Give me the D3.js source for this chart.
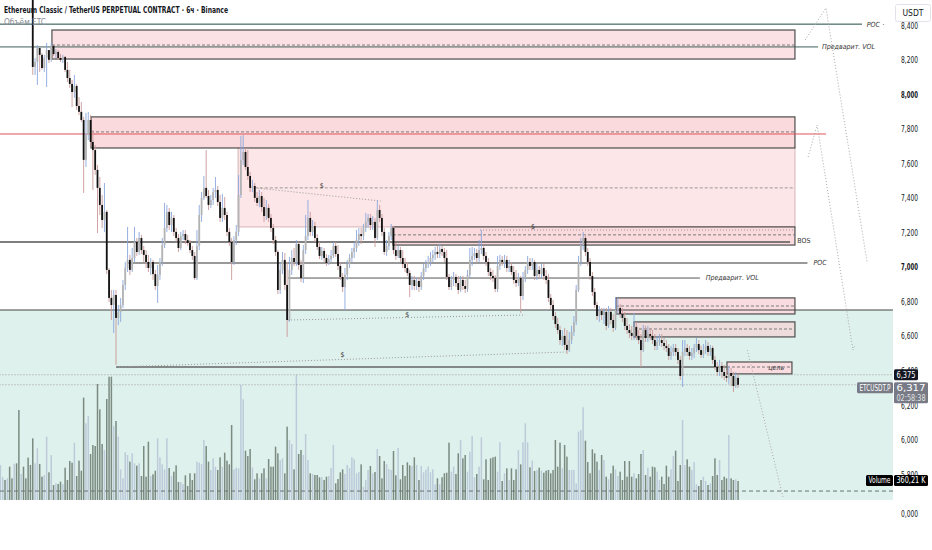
<!DOCTYPE html>
<html>
<head>
<meta charset="utf-8">
<title>ETCUSDT.P 6ч</title>
<script src="https://cdn.jsdelivr.net/npm/d3@7"></script>
<style>
body { margin: 0; background: #ffffff; }
svg text { font-family: "Liberation Sans Narrow", "DejaVu Sans Condensed", "Liberation Sans", sans-serif; }
</style>
</head>
<body>
<script>

// 6h candles, first one opens 24 May 12:00 UTC
var firstBar = Date.UTC(2025, 4, 24, 12);
var firstOpen = 8.68;

var closes = [
  8.70,8.75,8.72,8.80,8.78,8.74,8.82,8.79,8.71,8.76,
  8.73,8.68,8.66,8.62,8.157,8.186,8.267,8.227,8.151,8.209,
  8.255,8.198,8.279,8.232,8.244,8.209,8.198,8.215,8.140,8.093,
  8.059,8.012,8.047,7.931,7.897,7.850,7.619,7.763,7.850,7.723,
  7.676,7.561,7.457,7.358,7.271,7.318,6.982,6.820,6.779,6.837,
  6.704,6.739,6.779,6.895,6.993,7.040,6.982,7.051,7.144,7.086,
  7.167,7.097,7.069,7.028,6.993,7.028,6.958,6.889,6.953,7.028,
  7.126,7.225,7.318,7.242,7.283,7.202,7.167,7.109,7.178,7.190,
  7.155,7.138,7.097,7.063,6.935,7.121,7.300,7.399,7.457,7.410,
  7.358,7.387,7.433,7.445,7.375,7.283,7.341,7.300,7.202,7.144,
  7.028,7.155,7.202,7.416,7.619,7.665,7.578,7.526,7.457,7.468,
  7.399,7.370,7.410,7.346,7.294,7.341,7.283,7.225,7.155,7.086,
  6.866,6.982,7.040,6.895,6.692,6.982,7.051,7.028,7.132,7.011,
  6.935,7.097,7.178,7.283,7.202,7.236,7.167,7.115,7.063,7.092,
  7.051,7.022,7.045,7.063,7.121,7.074,7.005,6.941,6.883,6.953,
  7.016,7.051,7.086,7.109,7.155,7.190,7.178,7.225,7.260,7.283,
  7.242,7.260,7.167,7.329,7.283,7.202,7.086,7.121,7.178,7.225,
  7.097,7.063,7.097,7.051,7.016,6.993,6.964,6.895,6.924,6.889,
  6.918,6.883,6.947,6.993,7.016,7.028,7.051,7.069,7.086,7.074,
  7.103,7.086,7.051,6.941,6.883,6.924,6.941,6.906,6.866,6.924,
  6.889,6.872,6.953,7.040,7.063,7.080,7.051,7.097,7.109,7.063,
  7.028,6.970,6.947,6.935,6.872,7.005,7.040,7.028,7.040,6.993,
  7.005,6.970,6.924,6.906,6.935,6.831,6.935,6.982,7.028,7.005,
  7.028,6.947,6.982,6.958,6.993,6.947,6.924,6.820,6.779,6.715,
  6.669,6.634,6.576,6.600,6.548,6.518,6.576,6.623,6.681,6.866,
  7.028,7.126,7.167,7.086,7.028,6.947,6.854,6.779,6.715,6.744,
  6.721,6.739,6.658,6.739,6.692,6.646,6.750,6.762,6.727,6.704,
  6.658,6.634,6.617,6.600,6.652,6.600,6.576,6.518,6.634,6.588,
  6.611,6.600,6.576,6.542,6.565,6.576,6.559,6.542,6.530,6.484,
  6.507,6.530,6.507,6.461,6.368,6.507,6.530,6.507,6.484,6.501,
  6.530,6.553,6.518,6.490,6.518,6.542,6.507,6.530,6.461,6.420,
  6.391,6.426,6.391,6.368,6.357,6.385,6.368,6.310,6.357,6.317
];

var highs = [
  8.76,8.80,8.79,8.86,8.84,8.81,8.88,8.85,8.80,8.81,
  8.78,8.75,8.71,8.69,8.64,8.209,8.284,8.267,8.238,8.227,
  8.296,8.255,8.296,8.290,8.261,8.255,8.232,8.227,8.221,8.186,
  8.140,8.082,8.111,8.059,7.983,7.954,7.868,7.891,7.897,7.879,
  7.792,7.705,7.590,7.520,7.416,7.485,7.329,6.993,6.866,6.866,
  6.866,6.779,6.820,6.924,7.028,7.231,7.069,7.109,7.231,7.167,
  7.202,7.184,7.121,7.097,7.069,7.051,7.040,6.982,7.011,7.051,
  7.167,7.370,7.358,7.341,7.318,7.300,7.225,7.190,7.202,7.213,
  7.213,7.184,7.155,7.121,7.086,7.213,7.358,7.433,7.526,7.676,
  7.445,7.416,7.457,7.520,7.468,7.416,7.422,7.404,7.318,7.225,
  7.167,7.178,7.242,7.532,7.758,7.763,7.688,7.676,7.549,7.503,
  7.485,7.433,7.445,7.433,7.399,7.387,7.364,7.306,7.248,7.178,
  7.097,7.028,7.086,7.080,7.028,7.057,7.097,7.109,7.155,7.144,
  7.040,7.126,7.300,7.387,7.318,7.271,7.260,7.190,7.144,7.115,
  7.109,7.074,7.069,7.097,7.144,7.144,7.126,7.028,6.964,6.993,
  7.040,7.074,7.109,7.144,7.213,7.225,7.225,7.248,7.312,7.306,
  7.306,7.294,7.283,7.387,7.358,7.306,7.225,7.155,7.202,7.248,
  7.236,7.138,7.121,7.115,7.097,7.051,7.028,6.982,6.947,6.947,
  6.935,6.935,6.970,7.016,7.040,7.063,7.086,7.097,7.115,7.121,
  7.132,7.121,7.109,7.097,6.958,6.947,6.970,6.958,6.947,6.947,
  6.947,6.924,6.982,7.109,7.115,7.109,7.103,7.155,7.213,7.126,
  7.086,7.051,6.993,6.982,6.953,7.063,7.069,7.063,7.069,7.063,
  7.040,7.028,7.005,6.982,6.964,6.947,6.970,7.005,7.063,7.051,
  7.051,7.040,7.016,7.005,7.016,7.016,6.982,6.958,6.843,6.808,
  6.739,6.704,6.658,6.634,6.646,6.634,6.623,6.658,6.715,6.895,
  7.063,7.167,7.202,7.178,7.109,7.051,6.970,6.878,6.796,6.773,
  6.762,6.762,6.762,6.773,6.762,6.727,6.825,6.820,6.785,6.762,
  6.739,6.704,6.669,6.658,6.733,6.681,6.634,6.611,6.663,6.658,
  6.658,6.646,6.634,6.611,6.600,6.611,6.611,6.588,6.576,6.553,
  6.542,6.553,6.553,6.530,6.484,6.576,6.576,6.553,6.542,6.530,
  6.553,6.588,6.576,6.542,6.553,6.576,6.565,6.548,6.542,6.484,
  6.449,6.461,6.449,6.432,6.403,6.426,6.414,6.391,6.391,6.380
];

var lows = [
  8.66,8.68,8.69,8.70,8.74,8.71,8.72,8.76,8.68,8.69,
  8.70,8.64,8.62,8.58,8.111,8.111,8.053,8.128,8.140,8.128,
  8.041,8.180,8.186,8.221,8.209,8.198,8.186,8.180,8.128,8.070,
  8.036,7.925,7.978,7.908,7.879,7.839,7.428,7.578,7.734,7.694,
  7.445,7.532,7.196,7.300,7.225,7.202,6.958,6.796,6.692,6.617,
  6.432,6.663,6.681,6.762,6.866,6.970,6.953,6.970,7.028,7.063,
  7.069,7.074,7.028,6.993,6.970,6.953,6.924,6.866,6.791,6.924,
  7.005,7.109,7.202,7.213,7.202,7.178,7.144,7.086,7.097,7.155,
  7.132,7.121,7.080,7.040,6.924,6.924,7.097,7.260,7.387,7.399,
  7.329,7.341,7.358,7.399,7.352,7.260,7.260,7.271,7.178,7.121,
  6.924,7.011,7.126,7.178,7.399,7.590,7.561,7.503,7.433,7.433,
  7.375,7.352,7.346,7.318,7.260,7.271,7.260,7.202,7.132,7.063,
  6.843,6.843,6.958,6.866,6.594,6.681,6.953,7.005,7.005,6.982,
  6.912,6.906,7.074,7.155,7.178,7.178,7.144,7.097,7.045,7.040,
  7.028,7.005,7.011,7.028,7.051,7.057,6.982,6.924,6.854,6.750,
  6.924,6.993,7.028,7.051,7.086,7.121,7.132,7.155,7.202,7.225,
  7.213,7.213,7.115,7.155,7.260,7.178,7.069,7.063,7.097,7.155,
  7.074,7.040,7.051,7.028,6.993,6.970,6.947,6.825,6.866,6.866,
  6.866,6.854,6.866,6.924,6.970,6.993,7.005,7.028,7.040,7.051,
  7.051,7.063,7.028,6.924,6.866,6.866,6.889,6.883,6.843,6.854,
  6.866,6.849,6.854,6.935,7.005,7.040,7.028,7.028,7.074,7.040,
  7.005,6.947,6.924,6.912,6.854,6.854,6.982,7.005,6.993,6.970,
  6.970,6.953,6.901,6.883,6.889,6.733,6.808,6.912,6.958,6.982,
  6.982,6.924,6.924,6.935,6.935,6.924,6.901,6.796,6.756,6.692,
  6.646,6.611,6.548,6.542,6.518,6.495,6.507,6.553,6.600,6.663,
  6.854,7.005,7.097,7.063,7.005,6.924,6.831,6.762,6.692,6.681,
  6.692,6.669,6.634,6.646,6.669,6.623,6.634,6.727,6.704,6.681,
  6.634,6.611,6.588,6.576,6.576,6.576,6.553,6.420,6.507,6.565,
  6.565,6.576,6.553,6.518,6.518,6.542,6.536,6.518,6.507,6.461,
  6.461,6.484,6.484,6.437,6.345,6.304,6.484,6.484,6.461,6.461,
  6.472,6.507,6.495,6.472,6.472,6.495,6.484,6.484,6.437,6.403,
  6.368,6.368,6.357,6.345,6.333,6.322,6.310,6.275,6.298,6.298
];

// volume, thousands
var volumes = [
  664,430,379,411,632,411,683,695,1706,493,
  632,411,803,664,1169,695,980,683,442,474,
  1201,525,853,284,316,303,348,303,613,379,
  739,708,1087,455,746,556,1940,1454,1593,872,
  1043,1024,2199,1719,1062,948,1915,2338,2338,1403,
  1498,1201,581,411,904,853,727,885,695,651,
  695,455,1024,442,1106,455,487,556,1169,809,
  676,581,1169,607,455,537,657,341,341,303,
  468,265,506,379,506,727,708,683,1138,1024,
  727,569,790,632,569,809,632,897,746,676,
  1422,581,613,600,2180,1909,935,834,967,619,
  392,506,411,506,600,411,777,632,632,1011,
  885,758,790,506,1390,1138,1062,581,2370,872,
  948,853,1251,758,506,493,474,474,430,430,
  379,442,455,607,1043,316,398,525,581,493,
  664,607,809,771,506,531,676,253,379,569,
  645,506,531,967,834,411,739,683,588,569,
  929,468,986,392,664,455,714,657,645,809,
  664,379,645,525,575,632,525,581,297,411,
  297,430,506,518,1087,537,632,493,885,1138,
  790,853,537,916,1213,430,493,632,1188,392,
  771,379,790,809,822,537,1093,360,506,600,
  379,600,379,581,948,676,1093,1454,1093,619,
  746,550,569,613,556,518,556,569,506,569,
  1138,632,1087,600,1043,822,569,569,569,316,
  1296,1327,1757,1125,720,506,961,885,727,569,
  853,758,442,392,506,651,581,455,537,379,
  739,442,739,442,506,411,493,872,948,474,
  613,442,632,619,537,379,442,303,651,442,
  581,834,935,360,664,1517,664,771,632,569,
  720,297,265,379,442,360,284,316,455,790,
  474,758,379,442,411,1232,411,379,392,360.21
];

var priceTicks = [8.4, 8.2, 8.0, 7.8, 7.6, 7.4, 7.2, 7.0, 6.8, 6.6, 6.4, 6.2, 6.0, 5.8];
var tickDates = ["2025-05-25","2025-06-01","2025-06-05","2025-06-09","2025-06-13","2025-06-17",
  "2025-06-21","2025-06-25","2025-07-01","2025-07-05","2025-07-09","2025-07-13","2025-07-17",
  "2025-07-21","2025-07-25","2025-08-01","2025-08-05","2025-08-09","2025-08-13","2025-08-17",
  "2025-08-21","2025-08-25","2025-08-29"];
var tickLabels = ["25","Июн","5","9","13","17","21","25","Июль","5","9","13","17","21","25",
  "Авг","5","9","13","17","21","25","29"];

var lastPrice = 6.317, markPrice = 6.375, lastVolume = 360.21;

var width = 932, height = 550, plotRight = 893, volBase = 500;
var barMs = 6 * 3600 * 1000;

var svg = d3.select("body").append("svg")
  .attr("width", width)
  .attr("height", height);

var x = d3.scaleUtc()
  .domain([new Date(Date.UTC(2025, 4, 25)), new Date(Date.UTC(2025, 7, 29))])
  .range([5, 893]);
var xb = function(i) { return x(new Date(firstBar + i * barMs)); };
var y = d3.scaleLinear().domain([6.2, 8.4]).range([405, 25]);
var yv = d3.scaleLinear().domain([0, 2400]).range([volBase, volBase - 126.6]);
var fmt = function(v) { return d3.format(".3f")(v).replace(".", ","); };

svg.append("defs").append("clipPath").attr("id", "pane")
  .append("rect").attr("x", 0).attr("y", 0).attr("width", plotRight).attr("height", volBase);
svg.select("defs").append("clipPath").attr("id", "timeclip")
  .append("rect").attr("x", 0).attr("y", 505).attr("width", 897).attr("height", 45);

var pane = svg.append("g").attr("clip-path", "url(#pane)");

var bars = closes.map(function(c, i) {
  var o = i ? closes[i - 1] : firstOpen;
  return { i: i, o: o, c: c,
    h: Math.max(highs[i], o, c), l: Math.min(lows[i], o, c),
    v: volumes[i], up: c >= o };
});

// demand zone (mint) at the bottom
pane.append("rect")
  .attr("x", 0).attr("y", y(6.75))
  .attr("width", plotRight).attr("height", volBase - y(6.75))
  .attr("fill", "#dff1ec");

// volume
pane.selectAll(".vol").data(bars).enter().append("rect")
  .attr("class", "vol")
  .attr("x", function(d) { return xb(d.i) - 0.75; })
  .attr("y", function(d) { return yv(d.v); })
  .attr("width", 1.5)
  .attr("height", function(d) { return volBase - yv(d.v); })
  .attr("fill", function(d) { return d.up ? "#bccada" : "#7b8b82"; });

pane.append("line")
  .attr("x1", 0).attr("x2", plotRight)
  .attr("y1", yv(170)).attr("y2", yv(170))
  .attr("stroke", "#6b7370").attr("stroke-dasharray", "4,3");

// big supply area
pane.append("rect")
  .attr("x", xb(102.8)).attr("y", y(7.694))
  .attr("width", xb(343.6) - xb(102.8)).attr("height", y(7.231) - y(7.694))
  .attr("fill", "#fde6e8").attr("stroke", "#d6b3b6").attr("stroke-width", 1);

// boxes: from bar, to bar, top, bottom, middle
var zones = [
  [22.3, 343.6, 8.371, 8.203, 8.284, "#fbe1e4"],
  [39.2, 343.6, 7.868, 7.688, 7.781, "#fadadd"],
  [169.8, 343.6, 7.231, 7.126, 7.185, "#fadadd"],
  [266.2, 343.6, 6.820, 6.727, 6.773, "#f8dcdf"],
  [274, 343.6, 6.681, 6.594, 6.640, "#eedcdc"],
  [314.2, 342.3, 6.449, 6.380, 6.420, "#f8dcdf"]
];
zones.forEach(function(z) {
  pane.append("rect")
    .attr("x", xb(z[0])).attr("y", y(z[2]))
    .attr("width", xb(z[1]) - xb(z[0])).attr("height", y(z[3]) - y(z[2]))
    .attr("fill", z[5]).attr("stroke", "#4d4d4d").attr("stroke-width", 1.2);
  pane.append("line")
    .attr("x1", xb(z[0])).attr("x2", xb(z[1]))
    .attr("y1", y(z[4])).attr("y2", y(z[4]))
    .attr("stroke", "#7a7a7a").attr("stroke-dasharray", "3,2");
});

function hline(p, b0, b1, col, w, dash) {
  pane.append("line")
    .attr("x1", xb(b0)).attr("x2", xb(b1))
    .attr("y1", y(p)).attr("y2", y(p))
    .attr("stroke", col).attr("stroke-width", w)
    .attr("stroke-dasharray", dash || null);
}
function seg(pts, col, dash) {
  pane.append("path")
    .attr("d", d3.line().x(function(d) { return xb(d[0]); }).y(function(d) { return y(d[1]); })(pts))
    .attr("fill", "none").attr("stroke", col).attr("stroke-width", 1)
    .attr("stroke-dasharray", dash);
}
function label(txt, b, p, italic, anchor) {
  svg.append("text")
    .attr("x", xb(b)).attr("y", y(p))
    .attr("dy", "0.35em")
    .attr("text-anchor", anchor || "start")
    .style("font-size", "7px")
    .style("font-style", italic ? "italic" : "normal")
    .style("fill", "#333")
    .text(txt);
}

hline(8.405, -3, 372.6, "#1f4a44", 1);
hline(8.273, -3, 353.6, "#3f5f59", 1);
hline(7.769, -3, 357, "#e0525c", 1);
hline(7.144, -3, 341.5, "#555", 1.4);
hline(7.022, 55, 349, "#777", 1.4);
hline(6.935, 124.4, 302.5, "#555", 1);
hline(6.75, -3, 390, "#444", 1);
hline(6.420, 50, 314.2, "#666", 1.4);
hline(markPrice, -3, 390, "#9a9a9a", 1, "1,2");
hline(lastPrice, -3, 390, "#9a9a9a", 1, "1,2");

// liquidity lines
hline(7.457, 110, 343.6, "#999", 1, "3,2");
seg([[110, 7.457], [164.5, 7.381]], "#999", "1,2");
seg([[207.4, 7.213], [343.6, 7.213]], "#999", "1,2");
seg([[124.4, 6.692], [226.9, 6.721]], "#999", "1,2");
seg([[50, 6.420], [245, 6.507]], "#999", "1,2");

// projection paths
seg([[348, 8.313], [357, 8.499], [374.8, 7.028]], "#aaa", "1,2");
seg([[349.3, 7.636], [353.2, 7.821], [368.7, 6.518], [369.6, 6.55]], "#aaa", "1,2");
seg([[323, 6.518], [338.4, 5.667]], "#aaa", "1,2");

label("POC", 374.6, 8.405, true);
label("·", 381.5, 8.405, false);
label("Предварит. VOL", 355.3, 8.273, true);
label("BOS", 344.6, 7.150, false);
label("POC", 351.6, 7.022, true);
label("Предварит. VOL", 305, 6.935, true);
label("цель", 335.5, 6.418, true, "middle");
label("$", 139, 7.473, false, "middle");
label("$", 230.3, 7.235, false, "middle");
label("$", 176, 6.725, false, "middle");
label("$", 148, 6.49, false, "middle");

// candles
var cg = pane.append("g");
cg.selectAll(".wick").data(bars).enter().append("line")
  .attr("x1", function(d) { return xb(d.i); })
  .attr("x2", function(d) { return xb(d.i); })
  .attr("y1", function(d) { return y(d.h); })
  .attr("y2", function(d) { return y(d.l); })
  .attr("stroke", function(d) { return d.up ? "#8aa7dc" : "#c99898"; })
  .attr("stroke-width", 0.9);
cg.selectAll(".body").data(bars).enter().append("rect")
  .attr("x", function(d) { return xb(d.i) - 0.9; })
  .attr("y", function(d) { return y(Math.max(d.o, d.c)); })
  .attr("width", 1.8)
  .attr("height", function(d) { return Math.max(0.8, Math.abs(y(d.o) - y(d.c))); })
  .attr("fill", function(d) { return d.up ? "#b3b3b3" : "#111111"; });

// price scale
var gy = svg.append("g")
  .attr("transform", "translate(" + plotRight + ",0)")
  .call(d3.axisRight(y).tickValues(priceTicks).tickSize(0).tickPadding(8).tickFormat(fmt));
gy.select(".domain").remove();
gy.selectAll("text")
  .attr("textLength", 17).attr("lengthAdjust", "spacingAndGlyphs")
  .style("font-size", "9.5px")
  .style("fill", "#131722")
  .style("font-weight", function(d) { return (d === 8 || d === 7) ? "bold" : "normal"; });

svg.append("text").attr("x", 901).attr("y", 517)
  .attr("textLength", 17).attr("lengthAdjust", "spacingAndGlyphs")
  .style("font-size", "9.5px").style("fill", "#131722").text("0,000");

// time scale
var gx = svg.append("g")
  .attr("clip-path", "url(#timeclip)")
  .attr("transform", "translate(0,528)")
  .call(d3.axisBottom(x)
    .tickValues(tickDates.map(function(s) { return new Date(s + "T00:00:00Z"); }))
    .tickFormat(function(d, i) { return tickLabels[i]; })
    .tickSize(0).tickPadding(4));
gx.select(".domain").remove();
gx.selectAll("text").style("font-size", "9px").style("fill", "#131722");

// header
svg.append("text").attr("x", 4).attr("y", 13)
  .attr("textLength", 224).attr("lengthAdjust", "spacingAndGlyphs")
  .style("font-size", "9.5px").style("font-weight", "bold").style("fill", "#131722")
  .text("Ethereum Classic / TetherUS PERPETUAL CONTRACT · 6ч · Binance");
svg.append("text").attr("x", 4).attr("y", 25)
  .attr("textLength", 42).attr("lengthAdjust", "spacingAndGlyphs")
  .style("font-size", "9px").style("fill", "#8a8d96")
  .text("Объём ETC");

// USDT
svg.append("rect").attr("x", 895.5).attr("y", 4.5).attr("width", 35).attr("height", 17).attr("rx", 2)
  .attr("fill", "#fff").attr("stroke", "#e0e3eb");
svg.append("text").attr("x", 913).attr("y", 16).attr("text-anchor", "middle")
  .style("font-size", "8.5px").style("fill", "#131722").text("USDT");

// price tags: left, top, width, height, fill, lines
function tag(x0, y0, w, h, fill, lines) {
  svg.append("rect").attr("x", x0).attr("y", y0).attr("width", w).attr("height", h)
    .attr("rx", 1.5).attr("fill", fill);
  lines.forEach(function(t, k) {
    svg.append("text").attr("x", x0 + 2.5).attr("y", y0 + 8.5 + k * 10)
      .attr("textLength", w - 5).attr("lengthAdjust", "spacingAndGlyphs")
      .style("font-size", "8px").style("fill", k ? "#e3e3e3" : "#fff").text(t);
  });
}
tag(894, y(markPrice) - 5.5, 24, 11, "#131722", [fmt(markPrice)]);
tag(857, y(lastPrice) - 2.5, 36, 11, "#787b86", ["ETCUSDT.P"]);
tag(894, y(lastPrice) - 2.5, 34, 21, "#787b86", [fmt(lastPrice), "02:58:38"]);
tag(866, yv(lastVolume) - 6, 27, 11, "#000", ["Volume"]);
tag(894, yv(lastVolume) - 6, 34, 11, "#000", [d3.format(".2f")(lastVolume).replace(".", ",") + " K"]);

</script>
</body>
</html>
